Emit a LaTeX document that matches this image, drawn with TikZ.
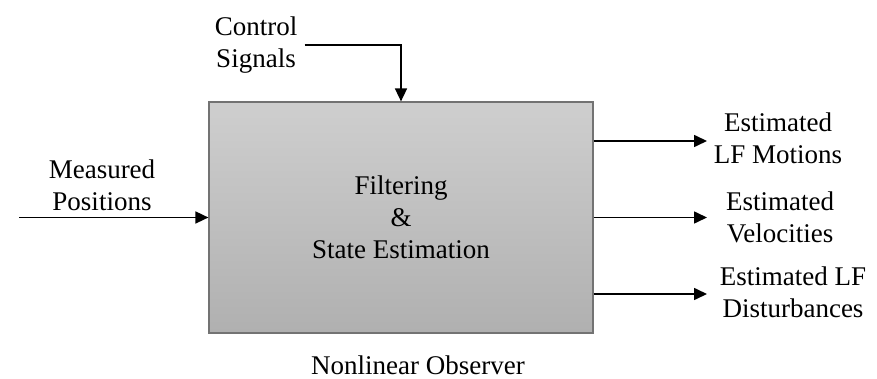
\documentclass[tikz,border=0pt]{standalone}
\usepackage{fontspec}
\setmainfont{Liberation Serif}
\usetikzlibrary{arrows.meta, positioning}

\begin{document}
\begin{tikzpicture}[x=0.5pt, y=-0.5pt,
  -{Triangle[length=6.5pt, width=6pt]}, line width=0.8pt,
  every node/.style = {font=\fontsize{13.5}{16}\selectfont, align=center},
  block/.style = {draw=gray!90!black, line width=0.6pt,
    top color=gray!38, bottom color=gray!62,
    minimum width=192pt, minimum height=115.5pt}]
\useasboundingbox (0,0) rectangle (877,379);

\node[block] (obs) at (401,217.5) {Filtering\\\&\\State Estimation};
\node (ctrl) at (256,45) {Control\\Signals};
\node (meas) at (102,185) {Measured\\Positions};
\node (title) at (418,365) {Nonlinear Observer};

\node (mot) at (778,138) {Estimated\\LF Motions};
\node (vel) at (780,217.5) {Estimated\\Velocities};
\node (dis) at (793,292) {Estimated LF\\Disturbances};

\coordinate (in) at (19,217.5); % free end
\coordinate (m) at (707,141);
\coordinate (v) at (707,217.5);
\coordinate (d) at (707,294);

\draw (in) -- (obs.west);
\draw (ctrl.east) -| (obs.north);
\draw (obs.east |- m) -- (m);
\draw (obs.east) -- (v);
\draw (obs.east |- d) -- (d);
\end{tikzpicture}
\end{document}
